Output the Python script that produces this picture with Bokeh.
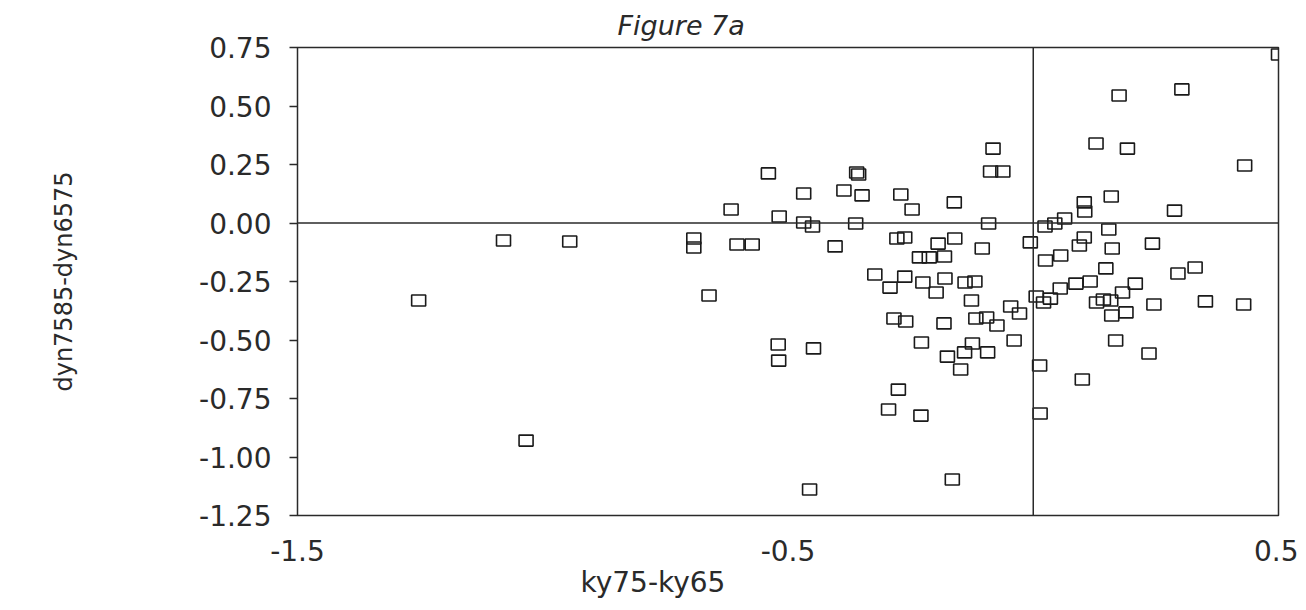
from bokeh.plotting import figure
from bokeh.models import Span, FixedTicker, Title
from bokeh.embed import file_html
from bokeh.resources import INLINE

# ky75-ky65 (x) and dyn7585-dyn6575 (y)
ky_diff = [
    -1.253, -1.080, -0.945, -1.034, -0.692, -0.692, -0.661, -0.604, -0.573, -0.616,
    -0.540, -0.518, -0.468, -0.468, -0.450, -0.386, -0.360, -0.356, -0.349, -0.362,
    -0.404, -0.270, -0.247, -0.161, -0.278, -0.262, -0.194, -0.160, -0.232, -0.212,
    -0.181, -0.323, -0.292, -0.262, -0.225, -0.198, -0.180, -0.082, -0.087, -0.062,
    -0.091, 0.104, 0.105, 0.024, 0.044, 0.064, -0.104, -0.006, 0.104, 0.094,
    0.025, 0.056, -0.139, -0.119, -0.126, 0.055, 0.087, 0.116, -0.046, 0.006,
    0.021, 0.035, -0.028, 0.129, 0.143, 0.158, 0.431, 0.159, 0.288, 0.154,
    0.243, 0.161, 0.148, 0.295, 0.330, 0.208, 0.182, 0.246, 0.351, 0.429,
    -0.284, -0.260, -0.182, -0.228, -0.448, -0.175, -0.148, -0.275, -0.295, -0.229,
    -0.117, -0.095, -0.074, -0.039, -0.124, -0.140, -0.093, 0.013, 0.100, 0.014,
    0.160, 0.189, 0.168, 0.236, -0.520, -0.519, -0.456, -0.165, 0.175, 0.303,
    0.128, 0.192, 0.500,
]
dyn_diff = [
    -0.331, -0.075, -0.079, -0.930, -0.066, -0.105, -0.310, -0.092, -0.092, 0.058,
    0.212, 0.028, 0.126, 0.002, -0.015, 0.139, 0.216, 0.207, 0.118, -0.002,
    -0.100, 0.122, 0.058, 0.088, -0.066, -0.062, -0.088, -0.066, -0.147, -0.147,
    -0.143, -0.220, -0.276, -0.229, -0.254, -0.297, -0.237, 0.318, 0.220, 0.220,
    -0.002, 0.088, 0.049, -0.015, -0.002, 0.019, -0.109, -0.083, -0.062, -0.096,
    -0.160, -0.139, -0.254, -0.250, -0.331, -0.280, -0.259, -0.250, -0.357, -0.314,
    -0.340, -0.323, -0.387, -0.340, -0.327, -0.331, 0.246, 0.113, 0.053, -0.028,
    -0.088, -0.109, -0.194, -0.216, -0.190, -0.259, -0.297, -0.348, -0.335, -0.348,
    -0.408, -0.421, -0.429, -0.511, -0.536, -0.571, -0.626, -0.712, -0.797, -0.823,
    -0.408, -0.404, -0.438, -0.502, -0.515, -0.553, -0.553, -0.609, -0.669, -0.814,
    -0.395, -0.382, -0.502, -0.558, -0.519, -0.588, -1.139, -1.096, 0.545, 0.571,
    0.340, 0.318, 0.720,
]

x_ticks = [-1.5, -0.5, 0.5]
x_tick_labels = ["-1.5", "-0.5", "0.5"]
y_ticks = [0.75, 0.5, 0.25, 0.0, -0.25, -0.5, -0.75, -1.0, -1.25]
y_tick_labels = ["0.75", "0.50", "0.25", "0.00", "-0.25", "-0.50", "-0.75", "-1.00", "-1.25"]

INK = "#2a2a2a"
FONT = "DejaVu Sans"

p = figure(width=1298, height=608, x_range=(-1.5, 0.5), y_range=(-1.25, 0.75),
           output_backend="svg", toolbar_location=None,
           min_border_left=297, min_border_right=20, min_border_top=47, min_border_bottom=93)
p.grid.visible = False
p.background_fill_color = "white"
p.border_fill_color = "white"
p.outline_line_color = INK
p.outline_line_width = 1.5

p.title.text = "Figure 7a"
p.title.align = "left"
p.title.offset = 320
p.title.standoff = 14
p.title.text_font = FONT
p.title.text_font_style = "italic"
p.title.text_font_size = "27px"
p.title.text_color = INK

p.xaxis.ticker = FixedTicker(ticks=x_ticks)
p.xaxis.major_label_overrides = {t: l for t, l in zip(x_ticks, x_tick_labels)}
p.yaxis.ticker = FixedTicker(ticks=y_ticks)
p.yaxis.major_label_overrides = {t: l for t, l in zip(y_ticks, y_tick_labels)}

for ax in (p.xaxis[0], p.yaxis[0]):
    ax.axis_line_color = None
    ax.minor_tick_line_color = None
    ax.major_tick_line_color = INK
    ax.major_tick_line_width = 1.5
    ax.major_tick_in = 0
    ax.major_label_text_font = FONT
    ax.major_label_text_font_size = "28px"
    ax.major_label_text_color = INK

p.xaxis.major_tick_out = 0
p.xaxis.major_label_standoff = 24
p.yaxis.major_tick_out = 8
p.yaxis.major_label_standoff = 18

p.yaxis.axis_label = "dyn7585-dyn6575"
p.yaxis.axis_label_text_font = FONT
p.yaxis.axis_label_text_font_style = "normal"
p.yaxis.axis_label_text_font_size = "24px"
p.yaxis.axis_label_text_color = INK
p.yaxis.axis_label_standoff = 118

p.add_layout(Title(text="ky75-ky65", align="left", offset=283, text_font=FONT,
                   text_font_style="normal", text_font_size="28px", text_color=INK,
                   standoff=0), "below")

p.add_layout(Span(location=0, dimension="width", line_color=INK, line_width=1.5))
p.add_layout(Span(location=0, dimension="height", line_color=INK, line_width=1.5))

p.rect(x=ky_diff, y=dyn_diff, width=14, height=11, width_units="screen", height_units="screen",
       fill_color=None, line_color="#1a1a1a", line_width=1.6)

open("out.html", "w").write(file_html(p, INLINE))
